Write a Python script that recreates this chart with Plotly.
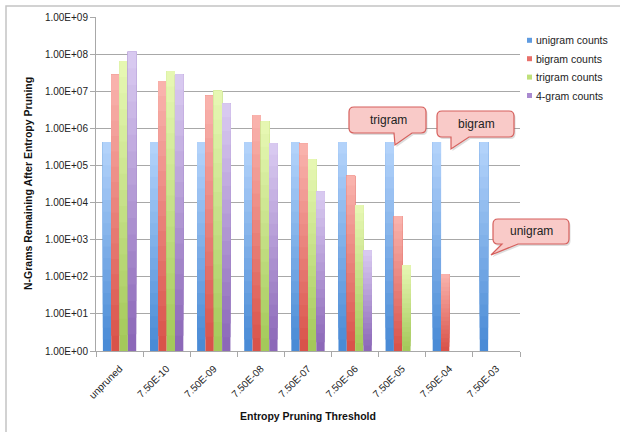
import math
import plotly.graph_objects as go

# ---- data -------------------------------------------------------------
categories = ["unpruned", "7.50E-10", "7.50E-09", "7.50E-08", "7.50E-07",
              "7.50E-06", "7.50E-05", "7.50E-04", "7.50E-03"]

unigram_counts = [428000, 428000, 428000, 428000, 428000, 428000, 428000, 428000, 428000]
bigram_counts = [2.8e7, 1.88e7, 7.6e6, 2.29e6, 3.9e5, 5.3e4, 4.3e3, 118, None]
trigram_counts = [6.5e7, 3.5e7, 1.03e7, 1.55e6, 1.49e5, 8.6e3, 207, None, None]
fourgram_counts = [1.16e8, 2.85e7, 4.7e6, 4.0e5, 2.0e4, 520, None, None, None]

series_names = ["unigram counts", "bigram counts", "trigram counts", "4-gram counts"]
series_values = [unigram_counts, bigram_counts, trigram_counts, fourgram_counts]

y_tick_values = [1, 10, 100, 1e3, 1e4, 1e5, 1e6, 1e7, 1e8, 1e9]
y_tick_labels = ["1.00E+00", "1.00E+01", "1.00E+02", "1.00E+03", "1.00E+04",
                 "1.00E+05", "1.00E+06", "1.00E+07", "1.00E+08", "1.00E+09"]

callout_labels = ["trigram", "bigram", "unigram"]

# ---- style ------------------------------------------------------------
FONT = "Liberation Sans, Arial, Helvetica, sans-serif"
# (bottom colour, top colour) of each series' vertical gradient
grad_colors = [
    ((74, 139, 214), (178, 210, 250)),
    ((217, 83, 74), (249, 178, 172)),
    ((164, 201, 90), (230, 247, 178)),
    ((140, 104, 184), (216, 201, 240)),
]
legend_colors = ["#5f9be0", "#e8706a", "#bfe07a", "#a98ad0"]
GRID = "#a8a8a8"
N_SEG = 18

W, H = 620, 432
L, R, T, B = 96, 100, 17, 81
PW, PH = W - L - R, H - T - B


def px(x):
    return (x - L) / PW


def py(y):
    return (T + PH - y) / PH


def mix(c0, c1, t):
    return "rgb(%d,%d,%d)" % tuple(round(a + (b - a) * t) for a, b in zip(c0, c1))


fig = go.Figure()

# Each bar is painted as a series of overlapping layers: layer k starts a
# little higher (in log space) than layer k-1 and always reaches the bar's
# value, so the bar fades from a dark base to a light top without seams.
for si, (name, vals) in enumerate(zip(series_names, series_values)):
    c_bot, c_top = grad_colors[si]
    for k in range(N_SEG):
        bases, heights = [], []
        for v in vals:
            if v is None:
                bases.append(None)
                heights.append(None)
                continue
            lo = 10 ** (math.log10(v) * k / N_SEG)
            bases.append(lo)
            heights.append(v - lo)
        fig.add_trace(go.Bar(
            x=categories, y=heights, base=bases, name=name,
            offsetgroup=name, showlegend=False, hoverinfo="skip",
            marker=dict(color=mix(c_bot, c_top, k / (N_SEG - 1)), line=dict(width=0)),
        ))

shapes = []
annotations = []

# outer chart frame
shapes.append(dict(type="rect", xref="paper", yref="paper",
                   x0=px(6), x1=px(640), y0=py(450), y1=py(6),
                   line=dict(color="#c4c4c4", width=1.5), fillcolor="rgba(0,0,0,0)",
                   layer="below"))

# legend
for i, name in enumerate(series_names):
    yc = 40.3 + i * 18.4
    shapes.append(dict(type="rect", xref="paper", yref="paper",
                       x0=px(527), x1=px(532), y0=py(yc + 2.5), y1=py(yc - 2.5),
                       line=dict(width=0), fillcolor=legend_colors[i]))
    annotations.append(dict(xref="paper", yref="paper", x=px(533.5), y=py(yc),
                            xanchor="left", yanchor="middle", showarrow=False,
                            text=name, font=dict(family=FONT, size=10.5, color="#222")))


def bubble(x0, y0, x1, y1, bl, tip, br, r=5):
    tx, ty = tip
    pts = [("M", x0 + r, y0), ("L", x1 - r, y0), ("Q", x1, y0, x1, y0 + r),
           ("L", x1, y1 - r), ("Q", x1, y1, x1 - r, y1), ("L", br, y1),
           ("L", tx, ty), ("L", bl, y1), ("L", x0 + r, y1),
           ("Q", x0, y1, x0, y1 - r), ("L", x0, y0 + r), ("Q", x0, y0, x0 + r, y0)]
    out = []
    for p in pts:
        cmd, coords = p[0], p[1:]
        xy = []
        for j in range(0, len(coords), 2):
            xy.append("%.5f,%.5f" % (px(coords[j]), py(coords[j + 1])))
        out.append(cmd + " ".join(xy))
    return " ".join(out) + " Z"


callouts = [
    # box (x0, y0, x1, y1), wedge base-left, tip, wedge base-right, text centre
    ((349, 107, 426, 133), 394, (395, 145), 412, (388, 120)),
    ((437, 111, 514, 137), 451, (451, 149), 469, (476, 124)),
    ((493, 219, 569, 244), 502, (491, 255), 518, (531, 231)),
]
for label, (box, bl, tip, br, tc) in zip(callout_labels, callouts):
    x0, y0, x1, y1 = box
    # soft drop shadow
    shapes.append(dict(type="path", xref="paper", yref="paper",
                       path=bubble(x0 + 1.5, y0 + 2, x1 + 1.5, y1 + 2, bl + 1.5,
                                   (tip[0] + 1.5, tip[1] + 2), br + 1.5),
                       fillcolor="rgba(120,120,120,0.25)", line=dict(width=0)))
    shapes.append(dict(type="path", xref="paper", yref="paper",
                       path=bubble(x0, y0, x1, y1, bl, tip, br),
                       fillcolor="#f9cac8", line=dict(color="#d65f5c", width=1.2)))
    annotations.append(dict(xref="paper", yref="paper", x=px(tc[0]), y=py(tc[1]),
                            xanchor="center", yanchor="middle", showarrow=False,
                            text=label, font=dict(family=FONT, size=12, color="#222")))

# axis titles
annotations.append(dict(xref="paper", yref="paper", x=px(308), y=py(416),
                        xanchor="center", yanchor="middle", showarrow=False,
                        text="<b>Entropy Pruning Threshold</b>",
                        font=dict(family=FONT, size=10.5, color="#111")))
annotations.append(dict(xref="paper", yref="paper", x=px(28), y=py(184),
                        xanchor="center", yanchor="middle", showarrow=False, textangle=-90,
                        text="<b>N-Grams Remaining After Entropy Pruning</b>",
                        font=dict(family=FONT, size=10.5, color="#111")))

fig.update_layout(
    width=W, height=H,
    margin=dict(l=L, r=R, t=T, b=B, pad=0),
    paper_bgcolor="white", plot_bgcolor="white",
    barmode="group", bargap=0.293, bargroupgap=0,
    showlegend=False,
    font=dict(family=FONT, color="#222"),
    shapes=shapes, annotations=annotations,
    xaxis=dict(type="category", showgrid=False, showline=True, linecolor=GRID,
               ticks="outside", tickson="boundaries", ticklen=5, tickcolor=GRID,
               tickangle=-45, ticklabelstandoff=7,
               tickfont=dict(family=FONT, size=10, color="#222"),
               zeroline=False),
    yaxis=dict(type="log", range=[0, 9], tickvals=y_tick_values, ticktext=y_tick_labels,
               showgrid=True, gridcolor=GRID, gridwidth=1, showline=True, linecolor=GRID,
               ticks="outside", ticklen=5, tickcolor=GRID,
               tickfont=dict(family=FONT, size=10, color="#222"), zeroline=False),
)

fig.write_html("out.html")
